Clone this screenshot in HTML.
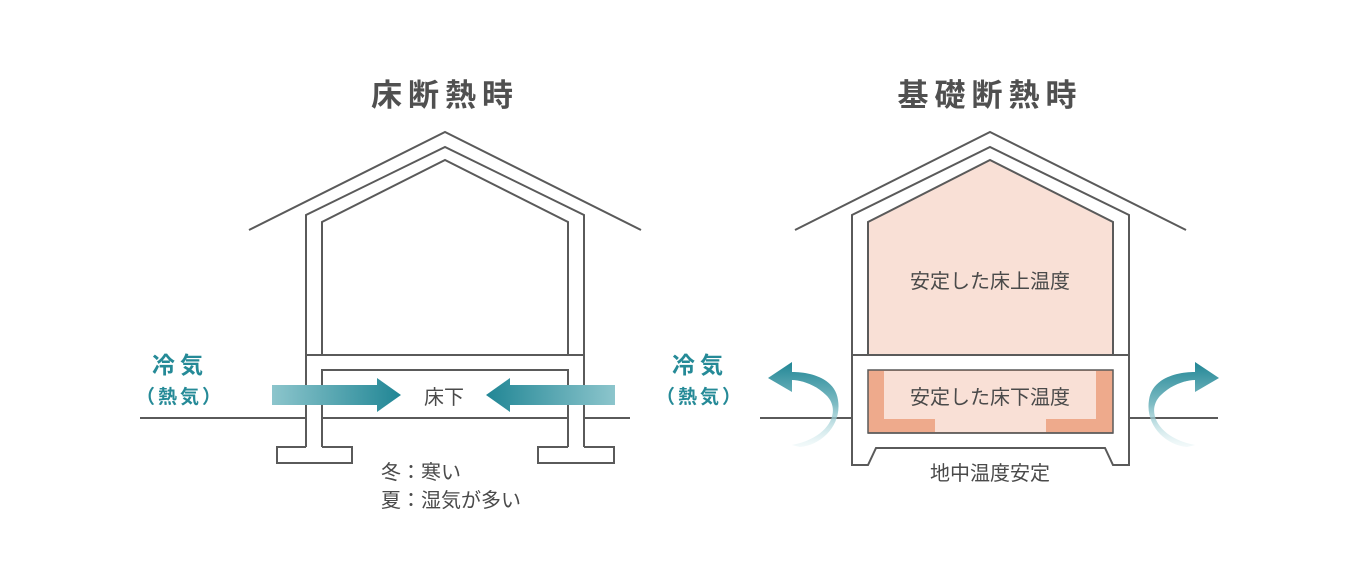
<!DOCTYPE html>
<html><head><meta charset="utf-8"><style>
html,body{margin:0;padding:0;background:#fff;}
svg{display:block}
text{font-family:"Liberation Sans","Noto Sans CJK JP",sans-serif;}
</style></head><body>
<svg width="1360" height="583" viewBox="0 0 1360 583" xmlns="http://www.w3.org/2000/svg">
<defs>
<linearGradient id="gr" x1="0" x2="1" y1="0" y2="0"><stop offset="0" stop-color="#8cc5cc"/><stop offset="1" stop-color="#218695"/></linearGradient>
<linearGradient id="gl" x1="1" x2="0" y1="0" y2="0"><stop offset="0" stop-color="#8cc5cc"/><stop offset="1" stop-color="#218695"/></linearGradient>
<linearGradient id="cl" x1="0" y1="1" x2="0" y2="0"><stop offset="0" stop-color="#d8eef0" stop-opacity="0.3"/><stop offset="0.5" stop-color="#7fbcc4"/><stop offset="1" stop-color="#218695"/></linearGradient>
</defs>
<g fill="#505050" font-size="31" font-weight="bold" text-anchor="middle">
<text x="445" y="106" letter-spacing="6">床断熱時</text>
<text x="990" y="106" letter-spacing="6">基礎断熱時</text>
</g>
<g fill="none" stroke="#5a5a5a" stroke-width="2">
<polyline points="249,230 445,132 641,230"/>
<polyline points="306,447 306,215 445,147 584,215 584,447"/>
<polyline points="322,355 322,222 445,160 568,222 568,355"/>
<line x1="306" y1="355" x2="584" y2="355"/>
<polyline points="322,447 322,370 568,370 568,447"/>
<polyline points="306,447 277,447 277,463 352,463 352,447 322,447"/>
<polyline points="584,447 614,447 614,463 538,463 538,447 568,447"/>
<line x1="140" y1="418" x2="306" y2="418"/>
<line x1="322" y1="418" x2="568" y2="418"/>
<line x1="584" y1="418" x2="630" y2="418"/>
<polyline points="795,230 990,132 1186,230"/>
<polygon points="868,355 868,222 990,160 1113,222 1113,355" fill="#f9e0d6"/>
<polyline points="852,355 852,215 990,147 1129,215 1129,355"/>
<line x1="852" y1="355" x2="1129" y2="355"/>
<polyline points="852,355 852,465 868,465 876,448 1105,448 1113,465 1129,465 1129,355"/>
<line x1="760" y1="418" x2="852" y2="418"/>
<line x1="1129" y1="418" x2="1218" y2="418"/>
</g>
<rect x="868" y="370" width="245" height="63" fill="#eeaa8c" stroke="#5a5a5a" stroke-width="1.5"/>
<polygon points="884,371 1096,371 1096,419 1046,419 1046,432 935,432 935,419 884,419" fill="#f9e0d6"/>
<line x1="868" y1="433" x2="1113" y2="433" stroke="#5a5a5a" stroke-width="1.5"/>
<g fill="#4a4a4a" font-size="20" text-anchor="middle">
<text x="990" y="288">安定した床上温度</text>
<text x="990" y="404">安定した床下温度</text>
<text x="990" y="480">地中温度安定</text>
<text x="444" y="404">床下</text>
<text x="381" y="479" text-anchor="start">冬：寒い</text>
<text x="381" y="507" text-anchor="start">夏：湿気が多い</text>
</g>
<g fill="#258a97" text-anchor="middle">
<text x="180" y="373" font-size="23" font-weight="bold" letter-spacing="5">冷気</text>
<text x="180" y="403" font-size="19" font-weight="bold" letter-spacing="3">（熱気）</text>
<text x="700" y="373" font-size="23" font-weight="bold" letter-spacing="5">冷気</text>
<text x="700" y="403" font-size="19" font-weight="bold" letter-spacing="3">（熱気）</text>
</g>
<polygon points="272,385 377,385 377,378 401,395 377,412 377,405 272,405" fill="url(#gr)"/>
<polygon points="615,385 510,385 510,378 486,395 510,412 510,405 615,405" fill="url(#gl)"/>
<path d="M792,445 C830,438 842,410 826,395 C815,384 800,380 792,380 L792,392 L768,378 L792,362 L792,372 C810,372 835,378 838,400 C842,425 822,445 800,447 Z" fill="url(#cl)"/>
<path d="M1195,445 C1157,438 1145,410 1161,395 C1172,384 1187,380 1195,380 L1195,392 L1219,378 L1195,362 L1195,372 C1177,372 1152,378 1149,400 C1145,425 1165,445 1187,447 Z" fill="url(#cl)"/>
</svg>
</body></html>
